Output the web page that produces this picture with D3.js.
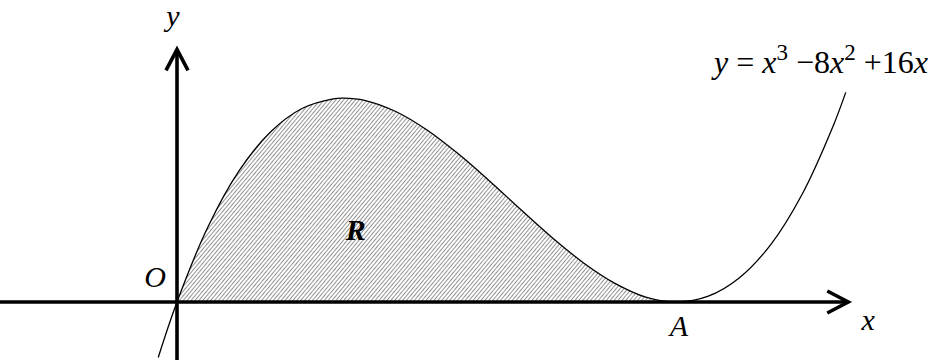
<!DOCTYPE html>
<html>
<head>
<meta charset="utf-8">
<title>Region R under y = x^3 - 8x^2 + 16x</title>
<script src="https://cdn.jsdelivr.net/npm/d3@7/dist/d3.min.js"></script>
<style>
  html, body { margin: 0; padding: 0; background: #fff; }
  svg { display: block; }
  text { font-family: "Liberation Serif", "DejaVu Serif", serif; fill: #000; }
</style>
</head>
<body>
<div id="chart"></div>
<script>
// points (x, y in graph units)
const curveX = [-0.15, 0, 0.25, 0.5, 0.75, 1, 1.25, 1.33, 1.5, 1.75, 2, 2.25, 2.5, 2.75, 3, 3.25, 3.5, 3.75, 4, 4.25, 4.5, 4.75, 5, 5.25, 5.35];
const curveY = [-2.58, 0, 3.52, 6.13, 7.92, 9, 9.45, 9.48, 9.38, 8.86, 8, 6.89, 5.63, 4.30, 3, 1.83, 0.88, 0.23, 0, 0.27, 1.13, 2.67, 5, 8.2, 9.75];
// shaded region R runs between these x values
const regionBounds = [0, 4];
// axis extents in graph units
const xAxisExtent = [-1.42, 5.37];
const yAxisExtent = [-2.7, 11.75];
const pointLabels = [
  { text: "O", x: 0, y: 0 },
  { text: "A", x: 4, y: 0 }
];

const width = 934, height = 360;

const x = d3.scaleLinear([0, 4], [177, 677]);
const y = d3.scaleLinear([0, 10], [302, 87]);

const svg = d3.select("#chart").append("svg")
    .attr("width", width)
    .attr("height", height)
    .attr("viewBox", [0, 0, width, height]);

const pat = svg.append("defs").append("pattern")
    .attr("id", "hatch")
    .attr("patternUnits", "userSpaceOnUse")
    .attr("width", 3)
    .attr("height", 10)
    .attr("patternTransform", "rotate(40)");
pat.append("line")
    .attr("x1", 0.5).attr("x2", 0.5)
    .attr("y1", 0).attr("y2", 10)
    .attr("stroke", "#808080")
    .attr("stroke-width", 0.85);

const pts = curveX.map((v, i) => [v, curveY[i]]);
const inRegion = pts.filter(d => d[0] >= regionBounds[0] && d[0] <= regionBounds[1]);

// hatched area R
svg.append("path")
    .datum(inRegion)
    .attr("fill", "url(#hatch)")
    .attr("d", d3.area()
        .x(d => x(d[0]))
        .y0(y(0))
        .y1(d => y(d[1]))
        .curve(d3.curveCatmullRom));

// the curve
svg.append("path")
    .datum(pts)
    .attr("fill", "none")
    .attr("stroke", "#000")
    .attr("stroke-width", 1.3)
    .attr("d", d3.line()
        .x(d => x(d[0]))
        .y(d => y(d[1]))
        .curve(d3.curveCatmullRom));

// axes with open arrow heads
const axisStyle = g => g.attr("stroke", "#000").attr("stroke-width", 3.6).attr("fill", "none")
    .attr("stroke-linejoin", "miter").attr("stroke-linecap", "butt");

svg.append("line").call(axisStyle)
    .attr("x1", x(xAxisExtent[0])).attr("x2", x(xAxisExtent[1]) - 2)
    .attr("y1", y(0)).attr("y2", y(0));
svg.append("polyline").call(axisStyle)
    .attr("points", [[x(xAxisExtent[1]) - 21, y(0) - 11], [x(xAxisExtent[1]), y(0)], [x(xAxisExtent[1]) - 21, y(0) + 11]].join(" "));

svg.append("line").call(axisStyle)
    .attr("x1", x(0)).attr("x2", x(0))
    .attr("y1", y(yAxisExtent[0])).attr("y2", y(yAxisExtent[1]) + 2);
svg.append("polyline").call(axisStyle)
    .attr("points", [[x(0) - 11, y(yAxisExtent[1]) + 21], [x(0), y(yAxisExtent[1])], [x(0) + 11, y(yAxisExtent[1]) + 21]].join(" "));

// labels
const italic = sel => sel.attr("font-style", "italic").attr("font-size", 30);

svg.append("text").call(italic)
    .attr("x", x(0) - 4).attr("y", y(yAxisExtent[1]) - 23)
    .attr("text-anchor", "middle").text("y");
svg.append("text").call(italic)
    .attr("x", x(xAxisExtent[1]) + 20).attr("y", y(0) + 28)
    .attr("text-anchor", "middle").text("x");

svg.append("text").call(italic)
    .attr("x", x(pointLabels[0].x) - 11).attr("y", y(pointLabels[0].y) - 15)
    .attr("text-anchor", "end").text(pointLabels[0].text);
svg.append("text").call(italic)
    .attr("x", x(pointLabels[1].x) + 2).attr("y", y(pointLabels[1].y) + 34)
    .attr("text-anchor", "middle").text(pointLabels[1].text);

svg.append("text").call(italic)
    .attr("font-weight", "bold")
    .attr("x", x(1.43)).attr("y", y(2.9))
    .attr("text-anchor", "middle").text("R");

// equation label
const eq = svg.append("text")
    .attr("font-size", 32)
    .attr("x", 928).attr("y", 73)
    .attr("text-anchor", "end");
const parts = [
  ["y", true, false], [" = ", false, false], ["x", true, false], ["3", false, true],
  [" \u22128", false, false], ["x", true, false], ["2", false, true],
  [" +16", false, false], ["x", true, false]
];
parts.forEach(([t, it, sup], i) => {
  const ts = eq.append("tspan").text(t);
  if (it) ts.attr("font-style", "italic");
  if (sup) ts.attr("font-size", 23).attr("dy", -13);
  else if (i > 0 && parts[i - 1][2]) ts.attr("dy", 13);
});
</script>
</body>
</html>
